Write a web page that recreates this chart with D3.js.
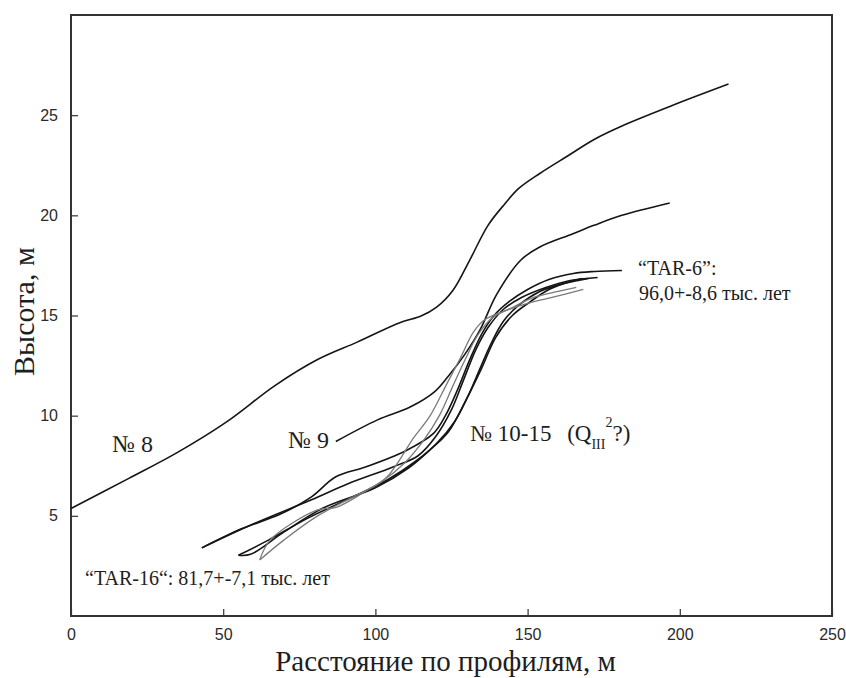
<!DOCTYPE html>
<html>
<head>
<meta charset="utf-8">
<script src="https://cdn.jsdelivr.net/npm/d3@7"></script>
<style>
  html, body { margin: 0; padding: 0; background: #fff; }
  svg { display: block; }
</style>
</head>
<body>
<svg id="chart" width="846" height="678"></svg>
<script>
// ---- data ----
const xTicks = [0, 50, 100, 150, 200, 250];
const yTicks = [5, 10, 15, 20, 25];
const xTitle = "Расстояние по профилям, м";
const yTitle = "Высота, м";

// profile № 8
const profile8 = [[0,5.37],[19,6.87],[35,8.17],[51,9.68],[67,11.5],[81,12.8],[94,13.67],[108,14.64],[115,14.97],[120,15.4],[125.5,16.26],[131,17.77],[137,19.5],[142.5,20.57],[147,21.33],[154,22.09],[163,22.95],[172,23.8],[181,24.46],[198.5,25.54],[216,26.55]];
// profile № 9
const profile9 = [[87,8.71],[100.7,9.79],[111.4,10.43],[119.4,11.19],[123.8,11.94],[129.2,13.02],[134.5,14.32],[139.8,16.04],[147.8,17.77],[154,18.42],[164.7,19.07],[171.8,19.5],[180.7,19.99],[196.7,20.62]];
// profiles № 10-15
const profile10 = [[43,3.4],[56,4.35],[69,5.1],[79,5.95],[87,6.95],[97,7.45],[110,8.25],[119,9.1],[123,10.0],[127,11.3],[131,12.8],[135,14.1],[139,15.0],[144,15.7],[150,16.3],[157,16.8],[165,17.1],[172,17.2],[181,17.25]];
const profile11 = [[43,3.4],[60,4.6],[79,5.8],[91,6.6],[106,7.45],[114,8.0],[120,9.0],[125,10.3],[129,11.8],[133,13.3],[137,14.4],[142,15.3],[148,15.9],[156,16.4],[164,16.75],[173,16.9]];
const profile12 = [[55,3.03],[59,3.08],[70,4.2],[83,5.4],[100,6.4],[111,7.4],[118,8.3],[124,9.2],[129.5,10.7],[135,12.4],[139.5,13.9],[145,15.0],[151,15.7],[157,16.3],[164,16.7],[168,16.85]];
const profile13 = [[55,3.03],[65,3.8],[78,4.9],[92,5.9],[104,6.8],[113,7.7],[120,8.6],[126,9.7],[130.5,11.0],[134.5,12.4],[138,13.6],[142,14.7],[147,15.5],[154,16.2],[162,16.6],[170,16.85]];
const profile14 = [[62,2.8],[65.5,3.8],[80.8,5.28],[87.4,5.44],[97.3,6.28],[103.8,6.94],[112.6,8.9],[118,10.0],[123.5,11.6],[128,12.9],[132.3,14.2],[136,14.8],[142,15.2],[150,15.6],[158,15.9],[168.3,16.3]];
const profile15 = [[62,2.8],[70,3.8],[80,4.9],[92,5.9],[102,6.7],[110,7.7],[116,8.8],[121,10.0],[125.5,11.5],[129.5,12.8],[133.5,14.0],[138.5,14.9],[145,15.4],[152,15.9],[160,16.2],[166,16.4]];

const profiles = [
  {pts: profile8,  gray: false},
  {pts: profile9,  gray: false},
  {pts: profile10, gray: false},
  {pts: profile11, gray: false},
  {pts: profile12, gray: false},
  {pts: profile13, gray: false},
  {pts: profile14, gray: true},
  {pts: profile15, gray: true}
];

// annotation texts (anchored in data space)
const labelNo8 = {x: 13.5, y: 8.19, text: "№ 8"};
const labelNo9 = {x: 71.3, y: 8.39, text: "№ 9"};
const labelNo10 = {x: 131.1, y: 8.74, text: "№ 10-15"};
const labelTar6a = {x: 186.3, y: 17.02, text: "“TAR-6”:"};
const labelTar6b = {x: 186.6, y: 15.78, text: "96,0+-8,6 тыс. лет"};
const labelTar16 = {x: 4.6, y: 1.55, text: "“TAR-16“: 81,7+-7,1 тыс. лет"};

// ---- layout ----
const W = 846, H = 678;
const m = {left: 71, top: 15, right: 14, bottom: 62};
const svg = d3.select("#chart");

const x = d3.scaleLinear().domain([0, 250]).range([m.left, W - m.right]);
const y = d3.scaleLinear().domain([0, 30]).range([H - m.bottom, m.top]);

const serif = "'Liberation Serif', 'Times New Roman', serif";
const sans = "'Liberation Sans', Arial, sans-serif";

// axes
const gx = svg.append("g")
  .attr("transform", `translate(0,${y(0)})`)
  .call(d3.axisBottom(x).tickValues(xTicks).tickSizeInner(-7).tickSizeOuter(0).tickPadding(13));
const gy = svg.append("g")
  .attr("transform", `translate(${x(0)},0)`)
  .call(d3.axisLeft(y).tickValues(yTicks).tickSizeInner(-7).tickSizeOuter(0).tickPadding(13));
[gx, gy].forEach(g => {
  g.select(".domain").remove();
  g.selectAll(".tick line").attr("stroke", "#333").attr("stroke-width", 1.2);
  g.selectAll(".tick text").attr("fill", "#2a2a2a").style("font-family", sans).style("font-size", "16px");
});

// frame
svg.append("rect")
  .attr("x", x(0)).attr("y", y(30))
  .attr("width", x(250) - x(0)).attr("height", y(0) - y(30))
  .attr("fill", "none").attr("stroke", "#333").attr("stroke-width", 2);

// curves
const line = d3.line().x(d => x(d[0])).y(d => y(d[1])).curve(d3.curveCatmullRom.alpha(0.5));
svg.append("g").selectAll("path").data(profiles).join("path")
  .attr("d", d => line(d.pts))
  .attr("fill", "none")
  .attr("stroke", d => d.gray ? "#7a7a7a" : "#151515")
  .attr("stroke-width", d => d.gray ? 1.3 : 1.6)
  .attr("stroke-linejoin", "round");

// annotations
function addLabel(l, size) {
  return svg.append("text")
    .attr("x", x(l.x)).attr("y", y(l.y))
    .attr("fill", "#1e1e1e")
    .style("font-family", serif).style("font-size", size + "px")
    .text(l.text);
}
addLabel(labelNo8, 24);
addLabel(labelNo9, 24);
addLabel(labelNo10, 23);
addLabel(labelTar6a, 20);
addLabel(labelTar6b, 20);
addLabel(labelTar16, 20);

// (Q_III^2?)
const q = svg.append("text")
  .attr("x", x(163)).attr("y", y(labelNo10.y))
  .attr("fill", "#1e1e1e")
  .style("font-family", serif).style("font-size", "23px");
q.append("tspan").text("(Q");
q.append("tspan").attr("dy", 8).style("font-size", "14px").text("III");
q.append("tspan").attr("dy", -22).style("font-size", "14px").text("2");
q.append("tspan").attr("dy", 14).text("?)");

// axis titles
svg.append("text")
  .attr("x", (x(0) + x(250)) / 2 - 6).attr("y", 671)
  .attr("text-anchor", "middle")
  .attr("fill", "#1e1e1e")
  .style("font-family", serif).style("font-size", "29px")
  .text(xTitle);
svg.append("text")
  .attr("transform", `translate(34,${(y(0) + y(30)) / 2 - 4}) rotate(-90)`)
  .attr("text-anchor", "middle")
  .attr("fill", "#1e1e1e")
  .style("font-family", serif).style("font-size", "30px")
  .text(yTitle);
</script>
</body>
</html>
